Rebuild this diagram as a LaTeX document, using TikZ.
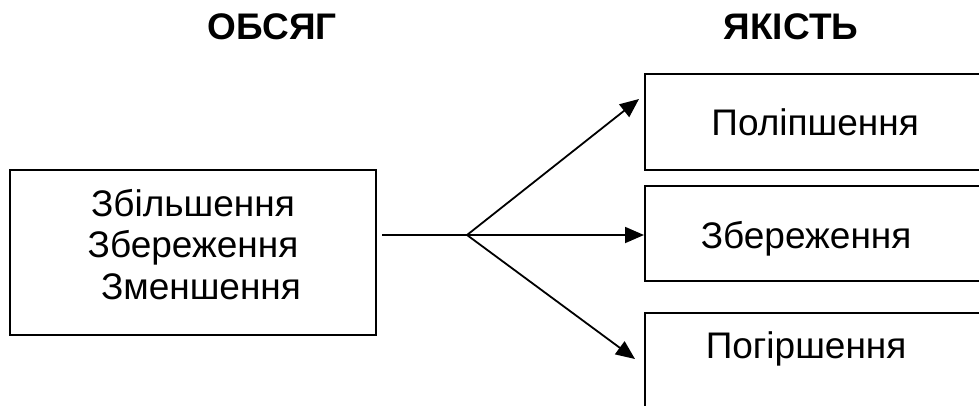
\documentclass[tikz,border=0pt]{standalone}
\usepackage{fontspec}
\setmainfont{Liberation Sans}
\usetikzlibrary{arrows.meta}
\begin{document}
\begin{tikzpicture}[x=1pt,y=-1pt,
  box/.style={draw,line width=2.2pt,inner sep=0pt,
    font=\fontsize{37}{41.5}\selectfont},
  head/.style={inner sep=0pt,font=\fontsize{37}{40}\selectfont\bfseries},
  link/.style={line width=1.8pt},
  arr/.style={link,-{Triangle[length=19pt,width=16pt]}}]
  \useasboundingbox (0,0) rectangle (979,405);
  \clip (0,0) rectangle (979,405);
  \node[head] (size) at (272,27) {ОБСЯГ};
  \node[head] (qual) at (791,27) {ЯКІСТЬ};
  \node[box,anchor=north,minimum width=366pt,text height=46pt,text depth=119pt]
    (change) at (193,169)
    {\begin{tabular}[t]{@{}c@{}}Збільшення\\Збереження\\\hspace*{16pt}Зменшення\end{tabular}};
  \node[box,anchor=north west,minimum width=340pt,text height=61pt,text depth=35pt]
    (better) at (644,73) {Поліпшення};
  \node[box,anchor=north west,minimum width=340pt,text height=62pt,text depth=33pt]
    (keep) at (644,185) {Збереження\hspace*{18pt}};
  \node[box,anchor=north west,minimum width=340pt,text height=45pt,text depth=100pt]
    (worse) at (644,312) {Погіршення\hspace*{18pt}};
  \coordinate (src) at (382,235);
  \coordinate (fork) at (467,235);
  \coordinate (up) at (639,99);
  \coordinate (down) at (635,359);
  \draw[link] (src) -- (fork);
  \draw[arr] (fork) -- (up);
  \draw[arr] (fork) -- (fork -| keep.west);
  \draw[arr] (fork) -- (down);
\end{tikzpicture}
\end{document}
